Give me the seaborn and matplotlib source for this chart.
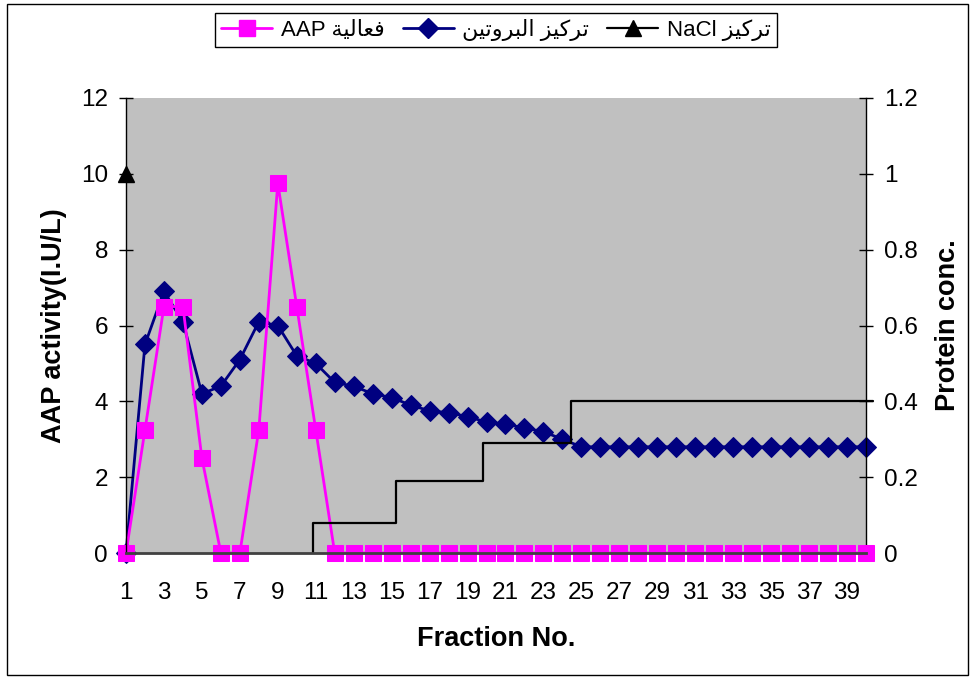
import numpy as np
import pandas as pd
import matplotlib
matplotlib.use("Agg")
import matplotlib.pyplot as plt
from matplotlib.lines import Line2D
from matplotlib.patches import Rectangle
import seaborn as sns

# data
fractions = list(range(1, 41))
aap_activity = [0, 3.25, 6.5, 6.5, 2.5, 0, 0, 3.25, 9.75, 6.5, 3.25] + [0] * 29
protein_conc = [0, 0.55, 0.69, 0.61, 0.42, 0.44, 0.51, 0.61, 0.60, 0.52, 0.50,
                0.45, 0.44, 0.42, 0.41, 0.39, 0.375, 0.37, 0.36, 0.345, 0.34,
                0.33, 0.32, 0.30] + [0.28] * 16
nacl_point_x = [1]
nacl_point_y = [10]
# NaCl gradient steps (left axis units)
nacl_step_x = [10.85, 10.85, 15.23, 15.23, 19.8, 19.8, 24.47, 24.47, 40.37]
nacl_step_y = [0, 0.8, 0.8, 1.9, 1.9, 2.9, 2.9, 4.0, 4.0]

x_labels = [str(f) if f % 2 == 1 else "" for f in fractions]

# Arabic legend text (visual order, presentation forms)
lbl_aap = "AAP " + "\uFE94\uFEF4\uFEDF\uFE8E\uFECC\uFED3"            # فعالية AAP
lbl_prot = ("\uFEE6\uFEF4\uFE97\uFEED\uFEAE\uFE92\uFEDF\uFE8D" + " "
            + "\uFEB0\uFEF4\uFEDB\uFEAE\uFE97")                      # تركيز البروتين
lbl_nacl = "NaCl " + "\uFEB0\uFEF4\uFEDB\uFEAE\uFE97"                 # تركيز NaCl

df = pd.DataFrame({"fraction": fractions, "aap": aap_activity, "protein": protein_conc})

sns.set_style("white")
plt.rcParams["font.family"] = ["Liberation Sans", "DejaVu Sans"]
plt.rcParams.update({"text.color": "black", "axes.labelcolor": "black",
                     "xtick.color": "black", "ytick.color": "black"})

MAGENTA = "#FF00FF"
NAVY = "#000080"

fig = plt.figure(figsize=(9.77, 6.79), dpi=100)
ax = fig.add_axes([126 / 977, 1 - 553 / 679, (866 - 126) / 977, (553 - 98) / 679])
ax2 = ax.twinx()
ax.set_zorder(ax2.get_zorder() + 1)
ax.patch.set_visible(False)
ax2.patch.set_visible(True)
ax2.set_facecolor("#C0C0C0")

# protein on secondary axis
sns.lineplot(data=df, x="fraction", y="protein", ax=ax2, color=NAVY, lw=2,
             marker="D", markersize=10.5, markeredgecolor=NAVY, clip_on=False)
# AAP activity on primary axis
sns.lineplot(data=df, x="fraction", y="aap", ax=ax, color=MAGENTA, lw=2,
             marker="s", markersize=11.5, markeredgecolor=MAGENTA, clip_on=False)
# NaCl
ax.plot(nacl_step_x, nacl_step_y, color="black", lw=1.6, clip_on=False)
ax.plot(nacl_point_x, nacl_point_y, ls="none", marker="^", ms=11, color="black", clip_on=False)

ax.set_xlim(1, 40)
ax.set_ylim(0, 12)
ax2.set_ylim(0, 1.2)
ax.set_xticks(fractions)
ax.set_xticklabels(x_labels)
ax.set_yticks(np.arange(0, 13, 2))
ax2.set_yticks([0, 0.2, 0.4, 0.6, 0.8, 1.0, 1.2])
ax2.set_yticklabels(["0", "0.2", "0.4", "0.6", "0.8", "1", "1.2"])

ax.tick_params(axis="x", direction="inout", length=8, width=1, labelsize=17.5, pad=17, colors="black")
ax.tick_params(axis="y", direction="inout", length=10, width=1, labelsize=17.5, pad=8, colors="black")
ax2.tick_params(axis="y", direction="inout", length=10, width=1, labelsize=17.5, pad=8, colors="black")

for a in (ax, ax2):
    for s in a.spines.values():
        s.set_visible(False)
ax.spines["left"].set_visible(True)
ax.spines["left"].set_color("black")
ax.spines["left"].set_linewidth(1)
ax.spines["bottom"].set_visible(True)
ax.spines["bottom"].set_color("#404040")
ax.spines["bottom"].set_linewidth(2)
ax2.spines["right"].set_visible(True)
ax2.spines["right"].set_color("black")
ax2.spines["right"].set_linewidth(1)

ax.set_xlabel("Fraction No.", fontsize=19.5, fontweight="bold", labelpad=16, color="black")
ax.set_ylabel("AAP activity(I.U/L)", fontsize=19.5, fontweight="bold", labelpad=10, color="black")
ax2.set_ylabel("Protein conc.", fontsize=19.5, fontweight="bold", labelpad=12, color="black")

handles = [
    Line2D([], [], color=MAGENTA, lw=2, marker="s", ms=11.5),
    Line2D([], [], color=NAVY, lw=2, marker="D", ms=10.5),
    Line2D([], [], color="black", lw=1.6, marker="^", ms=11),
]
leg = fig.legend(handles, [lbl_aap, lbl_prot, lbl_nacl], loc="center",
                 bbox_to_anchor=(496 / 977, 1 - 30 / 679), ncol=3, fontsize=16,
                 frameon=True, fancybox=False, edgecolor="black", framealpha=1,
                 handlelength=2.3, handletextpad=0.4, columnspacing=0.8,
                 borderpad=0.25, labelcolor="black")
leg.get_frame().set_linewidth(1)

# outer chart border
fig.patches.append(Rectangle((7 / 977, 4 / 679), 961 / 977, 671 / 679,
                             transform=fig.transFigure, fill=False,
                             edgecolor="black", lw=1))

fig.savefig("out.png", dpi=100)
